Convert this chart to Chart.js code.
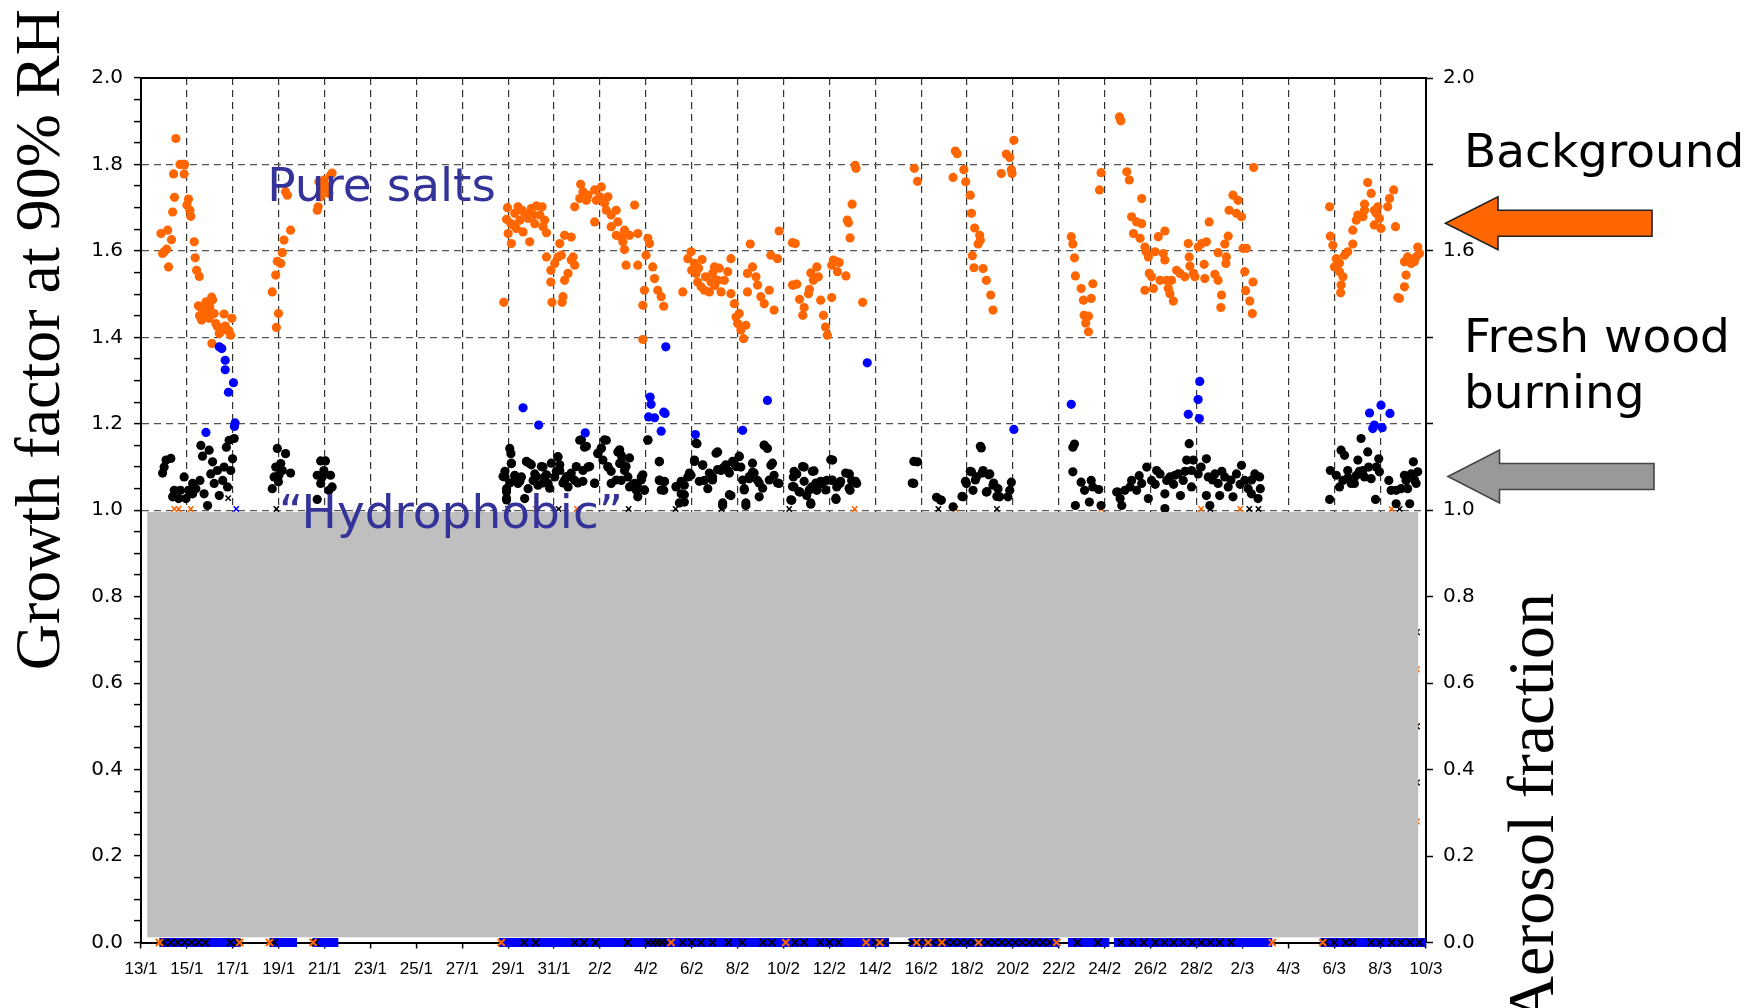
<!DOCTYPE html>
<html>
<head>
<meta charset="utf-8">
<title>Growth factor at 90% RH</title>
<script src="https://cdn.jsdelivr.net/npm/chart.js@4.4.1/dist/chart.umd.min.js"></script>
<style>
  html, body { margin: 0; padding: 0; background: #fff; }
  #wrap { width: 1751px; height: 1008px; position: relative; }
</style>
</head>
<body>
<div id="wrap"><canvas id="gfChart" width="1751" height="1008"></canvas></div>
<script>
// x = days after 13/1, y = growth factor (or aerosol fraction near the bottom)
const xTickLabels = ['13/1','15/1','17/1','19/1','21/1','23/1','25/1','27/1','29/1','31/1',
  '2/2','4/2','6/2','8/2','10/2','12/2','14/2','16/2','18/2','20/2','22/2','24/2','26/2','28/2',
  '2/3','4/3','6/3','8/3','10/3'];

// "background" mode, orange dots
const orangePoints = [
  [0.87,1.64],[0.94,1.594],[1.01,1.598],[1.12,1.604],[1.16,1.648],[1.2,1.563],[1.33,1.626],[1.38,1.69],
  [1.42,1.778],[1.46,1.724],[1.52,1.86],[1.7,1.80],[1.8,1.80],[1.9,1.80],[1.88,1.778],[2.0,1.706],
  [2.07,1.72],[2.13,1.694],[2.17,1.68],[2.32,1.621],[2.36,1.584],[2.42,1.555],[2.54,1.541],
  [2.61,1.469],[2.64,1.44],[2.68,1.455],[2.75,1.467],[2.83,1.482],[2.9,1.461],[2.97,1.444],[3.0,1.47],
  [3.09,1.386],[3.12,1.487],[3.19,1.455],[3.26,1.432],[3.41,1.409],[3.48,1.413],[3.62,1.454],[3.77,1.417],
  [3.91,1.405],[3.96,1.444],[2.5,1.473],[3.08,1.493],[3.33,1.425],[3.67,1.426],[3.83,1.415],[2.55,1.45],
  [5.72,1.505],[5.87,1.544],[5.94,1.576],[6.09,1.571],[6.16,1.596],[6.23,1.625],[6.52,1.648],[5.99,1.455],[5.9,1.423],
  [6.3,1.737],[6.38,1.729],[7.68,1.694],[7.72,1.702],[7.75,1.76],[7.83,1.725],[7.9,1.744],[7.97,1.764],
  [8.04,1.752],[8.19,1.733],[8.26,1.775],[8.33,1.78],
  [15.81,1.481],[15.97,1.70],[15.93,1.673],[16.0,1.64],[16.14,1.617],[16.22,1.66],[16.29,1.687],[16.43,1.702],
  [16.51,1.671],[16.65,1.644],[16.72,1.687],[16.94,1.621],[17.01,1.698],[17.16,1.663],[17.23,1.704],[17.38,1.683],
  [17.48,1.702],[17.59,1.671],[17.67,1.642],[16.87,1.675],[16.12,1.663],[16.36,1.652],[16.61,1.694],[17.09,1.683],
  [17.52,1.656],
  [17.67,1.586],[17.86,1.555],[17.86,1.528],[17.91,1.481],[18.03,1.571],[18.17,1.586],[18.32,1.59],[18.46,1.532],
  [18.61,1.548],[18.75,1.579],[18.83,1.586],[18.25,1.617],[18.46,1.636],[18.75,1.632],[18.39,1.494],[18.35,1.481],
  [18.9,1.567],
  [18.9,1.702],[19.16,1.754],[19.26,1.737],[19.12,1.721],[19.41,1.717],[19.48,1.729],[19.77,1.741],[20.06,1.748],
  [19.84,1.717],[19.99,1.725],[20.35,1.725],[20.2,1.71],[20.28,1.694],[20.49,1.683],[20.71,1.694],[19.77,1.667],
  [20.78,1.667],[20.49,1.656],[20.71,1.636],[20.93,1.632],[21.07,1.648],[21.29,1.636],[21.51,1.706],[21.65,1.64],
  [21.0,1.621],[21.07,1.603],[21.14,1.567],[21.65,1.567],[22.09,1.629],[22.16,1.617],[22.01,1.59],[22.3,1.563],
  [22.38,1.536],[21.94,1.509],[21.87,1.474],[22.52,1.509],[22.67,1.494],[22.78,1.472],[21.87,1.395],
  [23.61,1.505],[23.83,1.582],[23.97,1.598],[24.12,1.571],[24.19,1.548],[24.26,1.528],[24.41,1.517],[24.55,1.509],
  [24.77,1.505],[24.84,1.528],[24.91,1.548],[24.99,1.563],[25.13,1.532],[25.28,1.505],[25.42,1.532],[25.57,1.552],
  [25.71,1.582],[25.71,1.501],[25.86,1.478],[25.93,1.447],[26.07,1.455],[26.0,1.432],[26.14,1.417],[26.26,1.397],
  [26.36,1.428],[26.55,1.616],[26.43,1.548],[26.65,1.563],[26.8,1.54],[26.87,1.521],[26.43,1.505],[27.01,1.494],
  [27.16,1.478],[27.38,1.509],[27.59,1.463],[27.45,1.59],[27.74,1.582],[27.81,1.646],[28.39,1.619],[28.39,1.521],
  [24.3,1.56],[24.6,1.54],[24.0,1.555],[25.0,1.52],[25.2,1.56],[24.45,1.58],
  [28.51,1.617],[28.58,1.523],[28.43,1.521],[28.7,1.488],[28.9,1.469],[28.84,1.451],[29.13,1.511],[29.19,1.549],
  [29.3,1.532],[29.45,1.563],[29.52,1.54],[29.09,1.501],[29.62,1.486],[29.74,1.451],[29.83,1.424],[29.91,1.405],
  [30.1,1.492],[30.17,1.579],[30.1,1.567],[30.32,1.575],[30.43,1.573],[30.35,1.552],[30.72,1.542],[30.9,1.63],
  [30.83,1.665],[30.78,1.671],[30.99,1.708],[31.12,1.798],[31.16,1.791],[31.45,1.481],
  [33.7,1.791],[33.84,1.761],
  [35.49,1.831],[35.57,1.825],[35.39,1.77],[35.86,1.788],[35.94,1.76],[36.14,1.729],[36.19,1.687],[36.33,1.653],
  [36.55,1.636],[36.48,1.616],[36.58,1.625],[36.23,1.589],[36.3,1.561],[36.7,1.559],[36.84,1.532],[37.03,1.498],
  [37.13,1.463],
  [37.49,1.779],[37.71,1.824],[37.86,1.816],[37.93,1.788],[37.96,1.779],[38.04,1.856],
  [40.54,1.633],[40.61,1.616],[40.68,1.584],[40.72,1.542],[40.97,1.513],[41.07,1.486],[41.48,1.524],[41.41,1.49],
  [41.1,1.451],[41.29,1.449],[41.17,1.433],[41.29,1.413],[41.77,1.741],[41.84,1.781],
  [42.64,1.91],[42.7,1.901],[42.96,1.783],[43.07,1.764],[43.61,1.721],[43.17,1.679],[43.39,1.667],[43.61,1.663],
  [43.25,1.64],[43.54,1.629],[43.75,1.609],[43.9,1.586],[43.8,1.598],[43.94,1.548],[44.04,1.54],[43.75,1.509],
  [44.12,1.513],[44.19,1.598],[44.33,1.633],[44.62,1.646],[44.55,1.594],[44.62,1.579],[44.7,1.532],[44.77,1.513],
  [44.84,1.501],[44.99,1.484],[45.13,1.555],[45.28,1.548],[45.49,1.54],[45.64,1.617],[45.68,1.586],[45.71,1.565],
  [45.86,1.548],[46.07,1.609],[46.22,1.617],[46.43,1.621],[46.33,1.569],[46.36,1.536],[46.55,1.667],[46.8,1.546],
  [46.94,1.532],[46.94,1.596],[47.09,1.498],[47.06,1.469],[47.3,1.586],[47.28,1.571],[47.23,1.616],[47.38,1.634],
  [47.42,1.694],[47.59,1.729],[47.81,1.717],[47.74,1.687],[47.96,1.679],[48.03,1.606],[48.17,1.606],[48.1,1.552],
  [48.46,1.528],[48.14,1.508],[48.32,1.484],[48.43,1.455],[48.49,1.793],[45.93,1.54],[44.91,1.532],[44.41,1.532],
  [51.8,1.702],[51.83,1.634],[51.94,1.613],[52.09,1.582],[52.01,1.563],[52.23,1.552],[52.38,1.54],[52.3,1.521],
  [52.28,1.503],[52.23,1.572],[52.45,1.59],[52.59,1.598],[52.81,1.616],[52.81,1.648],[52.96,1.671],[53.03,1.683],
  [53.25,1.679],[53.32,1.708],[53.32,1.694],[53.46,1.758],[53.61,1.733],[53.75,1.694],[53.83,1.687],[53.9,1.702],
  [53.97,1.675],[53.75,1.66],[54.04,1.652],[54.33,1.702],[54.41,1.721],[54.59,1.741],[54.67,1.656],[55.06,1.575],
  [55.2,1.586],[55.35,1.571],[55.49,1.575],[55.57,1.586],[55.64,1.609],[55.13,1.544],[55.06,1.517],[54.84,1.49],
  [54.77,1.492],[55.72,1.594]
];

// "pure salts" mode, blue dots
const bluePoints = [
  [2.83,1.18],[3.41,1.378],[3.52,1.374],[3.67,1.347],[3.67,1.325],[4.03,1.295],[3.81,1.273],[4.1,1.202],[4.07,1.194],
  [16.65,1.237],[17.33,1.197],[19.36,1.179],[22.19,1.262],[22.23,1.245],[22.12,1.216],[22.38,1.214],[22.78,1.227],
  [22.84,1.224],[22.67,1.183],[22.87,1.378],[24.16,1.175],[26.22,1.185],[27.3,1.254],
  [31.65,1.341],[38.04,1.187],[40.54,1.245],
  [46.14,1.298],[46.07,1.256],[45.64,1.222],[46.12,1.212],[54.04,1.243],[53.54,1.225],[54.43,1.224],[53.68,1.189],
  [53.75,1.197],[54.09,1.191]
];

// "fresh wood burning" mode, black dots
const blackPoints = [
  [1.09,1.116],[1.3,1.12],[0.94,1.086],[1.01,1.1],[1.45,1.046],[1.38,1.031],[1.64,1.027],[1.88,1.077],[1.96,1.027],
  [2.07,1.046],[2.25,1.062],[2.39,1.05],[2.57,1.069],[2.61,1.15],[2.68,1.125],[2.97,1.139],[3.12,1.112],[2.9,1.011],
  [2.75,1.038],[3.04,1.084],[3.19,1.062],[3.33,1.092],[3.41,1.034],[3.56,1.069],[3.62,1.1],[3.72,1.146],[3.84,1.162],
  [4.06,1.166],[3.91,1.092],[3.99,1.119],[3.77,1.054],[2.25,1.038],[1.72,1.046],
  [5.94,1.143],[6.3,1.131],[5.87,1.1],[6.09,1.108],[6.16,1.092],[6.52,1.086],[6.01,1.081],[5.72,1.05],[5.99,1.066],[5.8,1.077],
  [7.83,1.114],[8.04,1.114],[7.68,1.081],[7.97,1.092],[8.26,1.081],[7.83,1.062],[8.19,1.046],[8.33,1.054],[7.68,1.025],[7.9,1.077],
  [16.07,1.143],[16.12,1.131],[16.14,1.108],[15.86,1.077],[15.93,1.05],[15.93,1.027],[16.29,1.081],[16.43,1.062],
  [16.58,1.077],[16.8,1.112],[16.94,1.108],[17.09,1.069],[17.16,1.084],[16.72,1.027],[16.87,1.05],[17.3,1.058],
  [17.52,1.1],[17.59,1.077],[17.74,1.062],[18.03,1.077],[18.17,1.123],[18.25,1.092],[18.46,1.069],[18.61,1.054],
  [18.75,1.077],[18.9,1.069],[19.12,1.162],[19.33,1.146],[19.26,1.092],[19.48,1.1],[19.77,1.062],[19.91,1.131],
  [20.06,1.143],[20.28,1.162],[20.13,1.116],[20.35,1.1],[20.49,1.062],[20.78,1.135],[20.93,1.127],[20.86,1.108],
  [21.07,1.092],[21.22,1.077],[20.93,1.069],[21.29,1.054],[21.51,1.062],[21.65,1.054],[21.8,1.077],[21.94,1.046],
  [22.09,1.162],[22.59,1.112],[22.59,1.069],[22.81,1.066],[22.78,1.046],[23.32,1.054],[23.54,1.038],[23.68,1.058],
  [23.83,1.077],[23.97,1.081],[24.12,1.116],[24.23,1.154],[24.48,1.104],[24.55,1.069],[24.7,1.05],[24.91,1.077],
  [25.13,1.135],[25.28,1.092],[25.42,1.1],[25.57,1.092],[25.71,1.034],[25.86,1.108],[26.07,1.125],[26.14,1.1],
  [26.29,1.05],[26.36,1.011],[26.51,1.073],[26.65,1.088],[26.87,1.069],[26.94,1.031],[27.16,1.15],[27.3,1.143],
  [27.45,1.104],[27.59,1.081],[27.81,1.062],[25.35,1.011],[23.68,1.019],[21.65,1.031],
  [15.86,1.09],[16.14,1.109],[15.78,1.078],[16.07,1.063],[16.29,1.078],[15.93,1.043],[15.93,1.024],[16.51,1.067],
  [16.8,1.113],[17.01,1.105],[17.23,1.078],[17.45,1.101],[17.52,1.063],[17.67,1.082],[17.88,1.109],[17.81,1.051],
  [18.1,1.09],[18.17,1.124],[18.25,1.105],[18.39,1.063],[18.54,1.078],[18.75,1.086],[18.97,1.101],[19.04,1.063],
  [19.26,1.067],[19.19,1.163],[19.41,1.148],[19.55,1.101],[19.77,1.063],[19.91,1.132],[20.06,1.144],[20.2,1.163],
  [20.35,1.101],[20.49,1.09],[20.71,1.07],[20.86,1.14],[20.93,1.113],[21.14,1.101],[21.29,1.121],[21.43,1.059],
  [21.58,1.047],[21.8,1.07],[21.94,1.047],[21.87,1.082],[22.09,1.163],[22.59,1.113],[22.59,1.07],[22.81,1.067],
  [22.67,1.047],[23.32,1.055],[23.54,1.067],[23.46,1.017],[23.68,1.036],[23.9,1.086],[24.12,1.113],[24.19,1.155],
  [24.33,1.067],[24.48,1.105],[24.77,1.086],[24.91,1.07],[25.06,1.132],[25.13,1.094],[25.35,1.097],[25.49,1.105],
  [25.64,1.086],[25.78,1.113],[25.93,1.101],[26.07,1.124],[26.22,1.07],[26.29,1.047],[26.36,1.017],[26.51,1.078],
  [26.65,1.109],[26.72,1.086],[26.94,1.063],[27.09,1.051],[27.16,1.151],[27.38,1.07],[27.52,1.109],[27.74,1.063],
  [28.46,1.09],[28.39,1.055],[28.68,1.043],[28.83,1.101],[28.9,1.067],[29.12,1.047],[29.26,1.09],[29.19,1.017],
  [29.41,1.063],[29.62,1.067],[29.84,1.047],[30.06,1.117],[30.13,1.07],[30.28,1.028],[30.49,1.067],[30.71,1.086],
  [30.86,1.051],[31.14,1.067],[28.32,1.024],[25.35,1.017],[25.64,1.036],
  [28.43,1.077],[28.58,1.084],[28.9,1.1],[29.33,1.091],[28.46,1.054],[28.72,1.042],[29.01,1.034],[29.23,1.054],
  [29.45,1.046],[29.67,1.062],[29.88,1.069],[30.1,1.069],[30.14,1.116],[30.32,1.054],[30.46,1.062],[30.87,1.084],
  [30.97,1.069],[30.9,1.046],[31.19,1.062],[30.29,1.025],[29.19,1.014],[28.36,1.023],
  [33.84,1.112],[33.68,1.062],[33.61,1.063],[33.68,1.113],
  [34.88,1.023],[35.39,1.008],[35.83,1.031],[35.97,1.062],[36.19,1.089],[36.41,1.077],[36.62,1.144],[36.7,1.092],
  [36.99,1.084],[36.84,1.042],[37.13,1.058],[37.35,1.05],[37.42,1.031],[37.78,1.031],[37.86,1.046],[37.93,1.065],
  [36.26,1.046],[34.67,1.03],[34.84,1.024],[35.78,1.032],[35.93,1.067],[36.14,1.09],[36.36,1.07],[36.58,1.148],
  [36.65,1.086],[36.87,1.043],[36.94,1.082],[37.16,1.063],[37.3,1.032],
  [40.61,1.146],[40.68,1.153],[40.61,1.089],[40.97,1.065],[41.12,1.046],[41.41,1.069],[41.48,1.054],[41.74,1.048],
  [40.72,1.011],[41.33,1.019],[41.84,1.011],[42.57,1.042],
  [42.52,1.042],[42.67,1.027],[42.74,1.011],[42.88,1.046],[43.17,1.069],[43.1,1.054],[43.39,1.046],[43.61,1.062],
  [43.83,1.1],[43.9,1.027],[44.04,1.069],[44.26,1.092],[44.41,1.084],[44.62,1.038],[44.7,1.069],[44.84,1.077],
  [45.06,1.081],[45.2,1.084],[45.3,1.034],[45.42,1.069],[45.57,1.116],[45.68,1.154],[45.78,1.092],[45.86,1.116],
  [45.78,1.054],[46.07,1.084],[46.43,1.119],[46.51,1.077],[46.43,1.034],[46.58,1.011],[46.8,1.084],[46.94,1.062],
  [47.01,1.034],[47.23,1.077],[47.38,1.054],[47.59,1.031],[47.74,1.084],[47.96,1.104],[48.1,1.069],[48.25,1.05],
  [48.39,1.038],[48.54,1.084],[48.75,1.077],[48.78,1.05],[48.68,1.027],[44.62,1.004],
  [45.0,1.06],[45.5,1.09],[46.2,1.1],[46.7,1.07],[47.1,1.09],[47.5,1.07],[47.9,1.06],[48.4,1.07],[44.2,1.06],[43.5,1.08],
  [51.8,1.025],[51.83,1.092],[52.09,1.081],[52.3,1.139],[52.45,1.127],[52.23,1.054],[52.38,1.069],[52.59,1.092],
  [52.74,1.062],[52.88,1.062],[53.03,1.116],[53.17,1.166],[53.25,1.092],[53.32,1.077],[53.46,1.135],[53.61,1.073],
  [53.83,1.1],[53.94,1.119],[53.8,1.025],[53.97,1.089],[54.38,1.069],[54.48,1.046],[54.7,1.046],[54.7,1.015],
  [54.91,1.05],[55.06,1.081],[55.13,1.069],[55.35,1.084],[55.45,1.112],[55.57,1.062],[55.64,1.089],[55.29,1.015],
  [52.6,1.075],[53.1,1.09],[52.95,1.08],[53.5,1.1],[55.2,1.05],[55.5,1.07]
];

// aerosol fraction crosses, sitting on the 1.0 line
const fracOrangeTop = [[1.45,1.003],[1.64,1.003],[2.17,1.003],[17.2,1.003],[19.0,1.003],[31.1,1.003],[35.5,1.003],
  [41.85,1.003],[46.2,1.003],[47.9,1.003],[54.5,1.003]];
const fracBlackTop = [[3.8,1.028],[5.9,1.003],[16.0,1.003],[18.2,1.003],[21.25,1.003],[23.3,1.003],[25.3,1.003],
  [28.25,1.003],[34.75,1.003],[37.3,1.003],[46.6,1.003],[48.3,1.003],[48.7,1.003],[54.85,1.003]];
const fracBlueTop = [[4.15,1.003]];

// aerosol fraction crosses peeking out at the right edge of the grey panel
const fracBlackEdge = [[55.6,0.718],[55.6,0.5],[55.6,0.37]];
const fracOrangeEdge = [[55.6,0.632],[55.6,0.5],[55.6,0.28]];

// aerosol fraction ~0: blue band where data exists, plus crosses
const bandBlue = [[0.8,4.3],[5.6,6.8],[7.5,8.6],[15.6,32.6],[33.5,40.0],[40.4,42.2],[42.4,49.3],[51.4,56.0]];
const bandBlackCross = [1.0,1.3,1.6,1.9,2.2,2.5,2.8,3.9,4.2,5.8,7.6,16.7,17.2,18.9,19.3,19.8,21.2,22.1,22.3,22.5,
  22.7,22.9,23.6,24.0,24.4,24.9,25.6,26.2,27.1,27.5,28.5,28.9,29.6,30.0,30.4,31.6,32.0,32.4,
  33.6,33.9,34.2,34.5,34.8,35.1,35.4,35.7,36.0,36.3,36.6,36.9,37.2,37.5,37.8,38.1,38.4,38.7,39.0,39.3,39.6,39.9,
  40.8,41.7,42.7,43.2,43.7,44.2,44.6,45.0,45.4,45.8,46.2,46.6,47.0,47.5,51.6,52.0,52.5,52.8,53.6,54.0,54.5,54.9,55.3,55.7];
const bandOrangeCross = [0.8,4.3,5.6,7.5,15.7,23.1,28.1,31.6,32.2,33.8,34.3,34.9,36.5,39.9,49.3,51.5];

// grey panel in data units: [xFrom, xTo, yFrom, yTo]
const greyPanel = [0.27, 55.66, 0.012, 0.996];
const rightAxisCoveredTicks = [1.2, 1.4, 1.8];
// levels the two side arrows point at
const backgroundLevel = 1.664;
const woodLevel = 1.078;

const toXY = arr => arr.map(([x, y]) => ({x, y}));
const isMajor = v => Math.abs(v * 5 - Math.round(v * 5)) < 1e-6;
const bandData = bandBlue.flatMap(([a, b]) => [{x: a, y: 0}, {x: b, y: 0}, {x: b, y: null}]);

function drawArrow(ctx, tipX, tipY, headX, endX, fill, stroke) {
  const headHalf = 26.5, shaftHalf = 13;
  ctx.beginPath();
  ctx.moveTo(tipX, tipY);
  ctx.lineTo(headX, tipY - headHalf);
  ctx.lineTo(headX, tipY - shaftHalf);
  ctx.lineTo(endX, tipY - shaftHalf);
  ctx.lineTo(endX, tipY + shaftHalf);
  ctx.lineTo(headX, tipY + shaftHalf);
  ctx.lineTo(headX, tipY + headHalf);
  ctx.closePath();
  ctx.fillStyle = fill;
  ctx.fill();
  ctx.lineWidth = 1.6;
  ctx.strokeStyle = stroke;
  ctx.stroke();
}

const overlayPlugin = {
  id: 'overlay',
  afterDatasetsDraw(chart) {
    const {ctx, chartArea: a, scales: {x, y}} = chart;
    ctx.save();
    const gx0 = x.getPixelForValue(greyPanel[0]);
    const gx1 = x.getPixelForValue(greyPanel[1]);
    const gy0 = y.getPixelForValue(greyPanel[3]);
    const gy1 = y.getPixelForValue(greyPanel[2]);
    ctx.fillStyle = '#BFBFBF';
    ctx.fillRect(gx0, gy0, gx1 - gx0, gy1 - gy0);

    // top edge of the frame
    ctx.strokeStyle = '#000';
    ctx.lineWidth = 2;
    ctx.beginPath();
    ctx.moveTo(a.left - 1, a.top);
    ctx.lineTo(a.right + 1, a.top);
    ctx.stroke();

    ctx.fillStyle = '#333399';
    ctx.font = '47px "DejaVu Sans"';
    ctx.textAlign = 'left';
    ctx.textBaseline = 'alphabetic';
    ctx.fillText('Pure salts', x.getPixelForValue(5.5), y.getPixelForValue(1.716));
    ctx.fillText('\u201CHydrophobic\u201D', x.getPixelForValue(6.0), y.getPixelForValue(0.96));
    ctx.restore();
  },
  afterDraw(chart) {
    const {ctx, chartArea: a, scales: {y}} = chart;
    ctx.save();
    // axis titles
    ctx.fillStyle = '#000';
    ctx.textBaseline = 'alphabetic';
    ctx.textAlign = 'right';
    ctx.font = '64px "Liberation Serif"';
    ctx.save();
    ctx.translate(59, 9);
    ctx.rotate(-Math.PI / 2);
    ctx.fillText('Growth factor at 90% RH', 0, 0);
    ctx.restore();
    ctx.font = '66px "Liberation Serif"';
    ctx.save();
    ctx.translate(a.right + 127, 593);
    ctx.rotate(-Math.PI / 2);
    ctx.fillText('Aerosol fraction', 0, 0);
    ctx.restore();

    // side notes and arrows
    ctx.textAlign = 'left';
    ctx.font = '47px "DejaVu Sans"';
    ctx.fillText('Background', a.right + 38, y.getPixelForValue(1.795));
    ctx.fillText('Fresh wood', a.right + 38, y.getPixelForValue(1.365));
    ctx.fillText('burning', a.right + 38, y.getPixelForValue(1.236));
    drawArrow(ctx, a.right + 19.5, y.getPixelForValue(backgroundLevel), a.right + 72, a.right + 226, '#FF6600', '#222');
    drawArrow(ctx, a.right + 22, y.getPixelForValue(woodLevel), a.right + 73.5, a.right + 228, '#999999', '#444');
    ctx.restore();
  }
};

const dotBase = {pointRadius: 4.6, pointBorderWidth: 0, pointHoverRadius: 4.6};
const crossBase = {pointStyle: 'crossRot', pointRadius: 3.8, pointBorderWidth: 1.5, backgroundColor: 'rgba(0,0,0,0)'};

new Chart(document.getElementById('gfChart').getContext('2d'), {
  type: 'scatter',
  data: {
    datasets: [
      Object.assign({label: 'pure salts', data: toXY(bluePoints), backgroundColor: '#0000FF'}, dotBase),
      Object.assign({label: 'fresh wood burning', data: toXY(blackPoints), backgroundColor: '#000000'}, dotBase),
      Object.assign({label: 'background', data: toXY(orangePoints), backgroundColor: '#FF6600'}, dotBase),
      Object.assign({label: 'frac orange top', data: toXY(fracOrangeTop), borderColor: '#FF6600'}, crossBase),
      Object.assign({label: 'frac black top', data: toXY(fracBlackTop), borderColor: '#000000'}, crossBase),
      Object.assign({label: 'frac blue top', data: toXY(fracBlueTop), borderColor: '#0000FF'}, crossBase),
      Object.assign({label: 'frac black edge', data: toXY(fracBlackEdge), borderColor: '#000000'}, crossBase, {pointRadius: 4}),
      Object.assign({label: 'frac orange edge', data: toXY(fracOrangeEdge), borderColor: '#FF6600'}, crossBase, {pointRadius: 4}),
      Object.assign({label: 'band orange', data: bandOrangeCross.map(d => ({x: d, y: 0})), borderColor: '#FF6600', clip: false},
        crossBase, {pointRadius: 5, pointBorderWidth: 2}),
      Object.assign({label: 'band black', data: bandBlackCross.map(d => ({x: d, y: 0})), borderColor: '#000000', clip: false},
        crossBase, {pointRadius: 5, pointBorderWidth: 1.8}),
      {label: 'band', data: bandData, showLine: true, spanGaps: false, borderColor: '#0000FF', borderWidth: 9,
        borderCapStyle: 'butt', pointRadius: 0, clip: false}
    ]
  },
  options: {
    responsive: false,
    devicePixelRatio: 1,
    animation: false,
    events: [],
    layout: {padding: {top: 78, left: 0, right: 0, bottom: 0}},
    plugins: {legend: {display: false}, tooltip: {enabled: false}},
    scales: {
      x: {
        type: 'linear', position: 'bottom', min: 0, max: 56,
        ticks: {stepSize: 2, autoSkip: false, maxRotation: 0, minRotation: 0, padding: 11, color: '#000',
          font: {family: 'Liberation Sans', size: 17}, callback: (v, i) => xTickLabels[i]},
        grid: {color: c => (c.tick && c.tick.value > 0 && c.tick.value < 56) ? '#333' : 'rgba(0,0,0,0)',
          lineWidth: 1.2, tickLength: 6, tickColor: '#000', tickWidth: 1.5},
        border: {display: true, color: '#000', width: 2, dash: [7, 5]},
        afterFit: s => { s.height = 65.5; }
      },
      y: {
        type: 'linear', position: 'left', min: 0, max: 2,
        ticks: {stepSize: 0.05, autoSkip: false, padding: 11, color: '#000',
          font: {family: 'DejaVu Sans', size: 20}, callback: v => isMajor(v) ? v.toFixed(1) : ''},
        grid: {color: c => (c.tick && isMajor(c.tick.value) && c.tick.value > 0.99 && c.tick.value < 1.99) ? '#555' : 'rgba(0,0,0,0)',
          lineWidth: 1.2, tickLength: 7, tickColor: '#000', tickWidth: 1.5},
        border: {display: true, color: '#000', width: 2, dash: [7, 5]},
        afterFit: s => { s.width = 141; }
      },
      y2: {
        type: 'linear', position: 'right', min: 0, max: 2,
        ticks: {stepSize: 0.2, autoSkip: false, padding: 10, color: '#000',
          font: {family: 'DejaVu Sans', size: 20},
          callback: v => rightAxisCoveredTicks.some(h => Math.abs(h - v) < 1e-6) ? '' : v.toFixed(1)},
        grid: {drawOnChartArea: false, tickLength: 7, tickColor: '#000', tickWidth: 1.5},
        border: {display: true, color: '#000', width: 2},
        afterFit: s => { s.width = 325; }
      }
    }
  },
  plugins: [overlayPlugin]
});
</script>
</body>
</html>
